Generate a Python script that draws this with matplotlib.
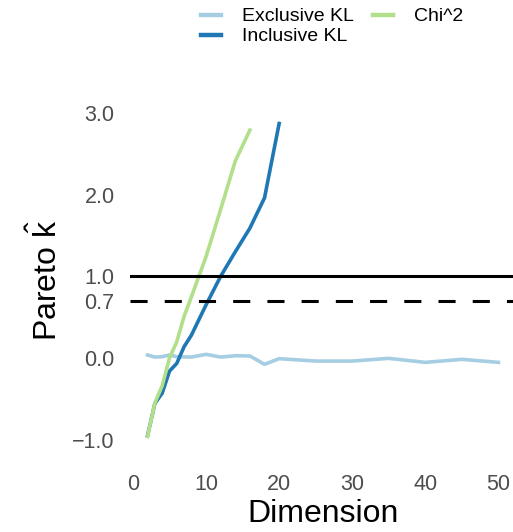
import numpy as np
import matplotlib
matplotlib.use("Agg")
import matplotlib.pyplot as plt

plt.rcParams['font.family'] = ['Liberation Sans', 'DejaVu Sans']
plt.rcParams['mathtext.fontset'] = 'custom'
plt.rcParams['mathtext.sf'] = 'Liberation Sans'
plt.rcParams['mathtext.rm'] = 'Liberation Sans'

# data
excl_dim = [2, 3, 4, 5, 6, 8, 10, 12, 14, 16, 18, 20, 25, 30, 35, 40, 45, 50]
excl_k = [0.037, 0.012, 0.016, 0.037, 0.016, 0.012, 0.045, 0.012, 0.028, 0.025,
          -0.077, -0.008, -0.037, -0.037, -0.004, -0.053, -0.016, -0.053]

incl_dim = [2, 3, 4, 5, 6, 7, 8, 10, 12, 14, 16, 18, 20]
incl_k = [-0.95, -0.556, -0.43, -0.16, -0.065, 0.139, 0.28, 0.65, 1.0, 1.30, 1.59, 1.96, 2.87]

chi_dim = [2, 3, 4, 5, 6, 7, 8, 10, 12, 14, 16]
chi_k = [-0.96, -0.55, -0.34, 0.0, 0.2, 0.51, 0.75, 1.24, 1.82, 2.41, 2.79]

series_names = ["Exclusive KL", "Inclusive KL", "Chi^2"]
series_colors = ["#a6cee3", "#1f78b4", "#b2df8a"]

yticks = [-1.0, 0.0, 0.7, 1.0, 2.0, 3.0]
xticks = [0, 10, 20, 30, 40, 50]

W, H = 513, 532
fig = plt.figure(figsize=(W / 100, H / 100), dpi=100)
# panel in pixel terms: left 130, bottom 452, top 108
ax = fig.add_axes([130 / W, (H - 452) / H, 386 / W, (452 - 108) / H])

lw = 2.6
ax.plot(excl_dim, excl_k, color=series_colors[0], lw=lw, label=series_names[0])
ax.plot(incl_dim, incl_k, color=series_colors[1], lw=lw, label=series_names[1])
ax.plot(chi_dim, chi_k, color=series_colors[2], lw=lw, label=series_names[2])

ax.axhline(1.0, color="black", lw=2.2)
ax.axhline(0.7, color="black", lw=2.2, linestyle=(0, (5.6, 5.6)))

ax.set_xlim(-0.4, 52.4)
ax.set_ylim(-1.15, 3.06)
ax.set_xticks(xticks)
ax.set_yticks(yticks)
ax.set_yticklabels(["\u22121.0", "0.0", "0.7", "1.0", "2.0", "3.0"])
ax.tick_params(length=0, labelsize=15.5, labelcolor="#4d4d4d")
ax.tick_params(axis="x", pad=16)
ax.tick_params(axis="y", pad=11)
for s in ax.spines.values():
    s.set_visible(False)

ax.set_xlabel("Dimension", fontsize=23, labelpad=3)
ax.set_ylabel(r"Pareto $\hat{\mathsf{k}}$", fontsize=23, labelpad=6)

leg = fig.legend(loc="upper left", bbox_to_anchor=(193 / W, 1), ncol=2,
                 frameon=False, fontsize=14, handlelength=1.05, handletextpad=1.05,
                 columnspacing=1.0, labelspacing=0.12, borderaxespad=0)
for h in leg.get_lines():
    h.set_linewidth(3.2)

fig.savefig("out.png", dpi=100)
